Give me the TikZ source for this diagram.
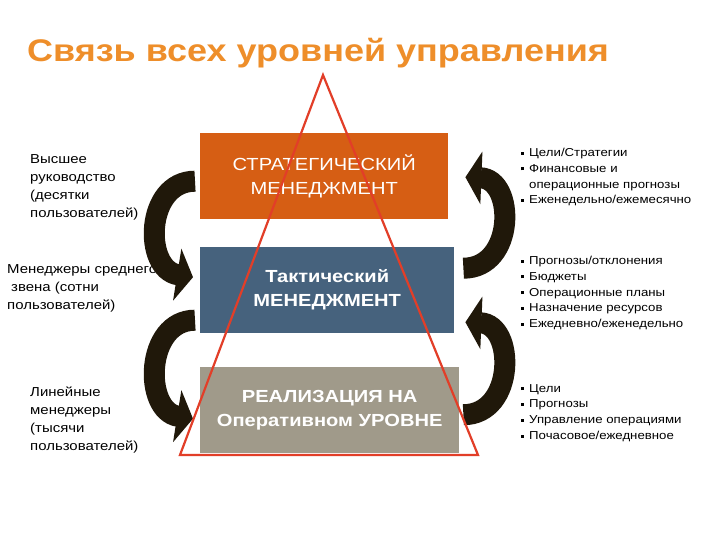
\documentclass[tikz,border=0pt]{standalone}
\usepackage{fontspec}
\setmainfont{Liberation Sans}[FakeStretch=1.15]
\usetikzlibrary{arrows.meta,calc}
\definecolor{titleorange}{RGB}{238,142,42}
\definecolor{stratorange}{RGB}{214,94,20}
\definecolor{tactblue}{RGB}{70,98,125}
\definecolor{opergrey}{RGB}{160,154,138}
\definecolor{pyrred}{RGB}{226,62,40}
\definecolor{turnbrown}{RGB}{32,24,10}
\newcommand{\sqb}{\rule[2pt]{3pt}{3pt}\hspace{5pt}}
\tikzset{
  level/.style={minimum height=86pt, inner sep=0pt, text=white, align=center,
    font=\fontsize{17.5}{24}\selectfont\bfseries},
  turn/.style={line width=21pt, draw=turnbrown, -{Triangle[length=16pt,width=52pt]}},
  note/.style={align=left, anchor=west, inner sep=0pt, font=\fontsize{13}{18}\selectfont},
  list/.style={align=left, anchor=north west, inner sep=0pt, font=\fontsize{11.5}{15.8}\selectfont},
}
\begin{document}
\begin{tikzpicture}[x=1pt,y=-1pt]
    \useasboundingbox[fill=white] (0,0) rectangle (720,540);
    % title
    \node[anchor=base west, inner sep=0pt, text=titleorange,
      font=\fontsize{31.3}{36}\selectfont\bfseries] (title) at (27,62) {Связь всех уровней управления};
    % who
    \node[note] (topmgr) at (30,187) {Высшее\\руководство\\(десятки\\пользователей)};
    \node[note] (midmgr) at (7,288) {Менеджеры среднего\\\hspace*{4pt}звена (сотни\\пользователей)};
    \node[note] (linemgr) at (30,420) {Линейные\\менеджеры\\(тысячи\\пользователей)};
    % what
    \node[list] (stratlist) at (521,148) {\sqb Цели/Стратегии\\\sqb Финансовые и\\\hspace*{8pt}операционные прогнозы\\\sqb Еженедельно/ежемесячно};
    \node[list] (tactlist) at (521,256) {\sqb Прогнозы/отклонения\\\sqb Бюджеты\\\sqb Операционные планы\\\sqb Назначение ресурсов\\\sqb Ежедневно/еженедельно};
    \node[list] (operlist) at (521,384) {\sqb Цели\\\sqb Прогнозы\\\sqb Управление операциями\\\sqb Почасовое/ежедневное};
    % levels
    \node[level, fill=stratorange, minimum width=248pt, anchor=north west,
      font=\fontsize{17.5}{24}\selectfont] (strat) at (200,133) {СТРАТЕГИЧЕСКИЙ\\МЕНЕДЖМЕНТ};
    \node[level, fill=tactblue, minimum width=254pt, anchor=north west] (tact) at (200,247) {Тактический\\МЕНЕДЖМЕНТ};
    \node[level, fill=opergrey, minimum width=259pt, anchor=north west] (oper) at (200,367) {РЕАЛИЗАЦИЯ НА\\Оперативном УРОВНЕ};
    % arrows down (left)
    \draw[turn] ([xshift=-5pt,yshift=-5pt]strat.west) .. controls +(-50,0) and +(-50,-8) .. ([xshift=-7pt,yshift=13pt]tact.west);
    \draw[turn] ([xshift=-5pt,yshift=-30pt]tact.west) .. controls +(-50,0) and +(-50,-8) .. ([xshift=-7pt,yshift=-8.5pt]oper.west);
    % arrows up (right)
    \draw[turn] ([xshift=9pt,yshift=22pt]tact.east) .. controls +(52,0) and +(50,2) .. ([xshift=17pt,yshift=-1pt]strat.east);
    \draw[turn] ([xshift=4pt,yshift=-4.5pt]oper.east) .. controls +(52,0) and +(50,2) .. ([xshift=11pt,yshift=-32pt]tact.east);
    % pyramid
    \coordinate (apex) at (323,75);
    \coordinate (bl) at (180,455);
    \coordinate (br) at (478,455);
    \draw[pyrred, line width=2.2pt] (apex) -- (br) -- (bl) -- cycle;
\end{tikzpicture}
\end{document}
